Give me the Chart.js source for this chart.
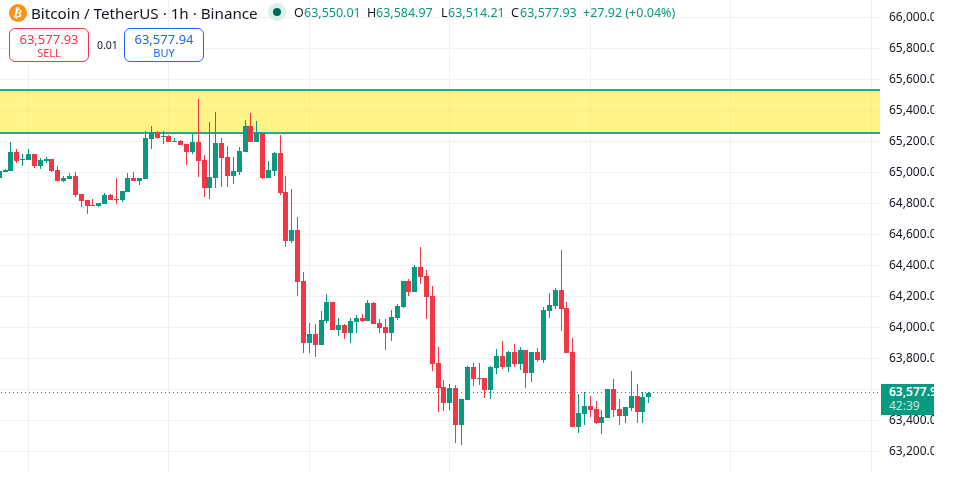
<!DOCTYPE html>
<html>
<head>
<meta charset="utf-8">
<script src="https://cdn.jsdelivr.net/npm/chart.js@4"></script>
<style>
html,body{margin:0;padding:0;background:#fff;width:966px;height:490px;overflow:hidden}
body{font-family:"Noto Sans",sans-serif;color:#131722;position:relative}
#c{position:absolute;left:0;top:0}
.t{position:absolute;white-space:nowrap;line-height:16px}
.g{color:#089981}
.btn{position:absolute;top:28px;width:78px;height:32px;border:1px solid;border-radius:6px;background:#fff;text-align:center}
.btn div{position:absolute;left:0;right:0;white-space:nowrap}
.btn .p{top:2px;font-size:13px;line-height:16px}
.btn .s{top:17px;font-size:11px;line-height:14px}
#tag{position:absolute;left:881px;top:384px;width:53px;height:31px;background:#089981;overflow:hidden;color:#fff;font-size:12px}
#tag div{position:absolute;left:8px;white-space:nowrap;line-height:15px}
</style>
</head>
<body>
<canvas id="c" width="934" height="472" style="width:934px;height:472px"></canvas>

<div style="position:absolute;left:9px;top:4px;width:18px;height:18px;border-radius:50%;background:#f7931a;color:#fff;text-align:center;font:bold 12px/18px 'DejaVu Sans'"><span style="display:inline-block;transform:rotate(14deg)">₿</span></div>
<div class="t" id="title" style="left:31px;top:2px;font-size:15.2px;line-height:22px">Bitcoin / TetherUS · 1h · Binance</div>
<div style="position:absolute;left:268px;top:3px;width:18px;height:18px;border-radius:50%;background:#dbefeb"></div>
<div style="position:absolute;left:273px;top:8px;width:8px;height:8px;border-radius:50%;background:#056656"></div>
<div class="t" style="left:294px;top:5px;font-size:12.5px">O</div><div class="t g" style="left:304px;top:5px;font-size:12.5px">63,550.01</div>
<div class="t" style="left:367px;top:5px;font-size:12.5px">H</div><div class="t g" style="left:376px;top:5px;font-size:12.5px">63,584.97</div>
<div class="t" style="left:441px;top:5px;font-size:12.5px">L</div><div class="t g" style="left:448px;top:5px;font-size:12.5px">63,514.21</div>
<div class="t" style="left:511px;top:5px;font-size:12.5px">C</div><div class="t g" style="left:520px;top:5px;font-size:12.5px">63,577.93</div>
<div class="t g" style="left:583px;top:5px;font-size:12.5px">+27.92 (+0.04%)</div>

<div class="btn" style="left:9px;border-color:#f23645;color:#f23645"><div class="p">63,577.93</div><div class="s">SELL</div></div>
<div class="t" style="left:97px;top:37px;font-size:10.5px">0.01</div>
<div class="btn" style="left:124px;border-color:#2962ff;color:#2962ff"><div class="p">63,577.94</div><div class="s">BUY</div></div>

<div id="tag"><div style="top:0px;font-weight:600">63,577.93</div><div style="top:14px;opacity:.75">42:39</div></div>

<script>
const opens=[64963,65002,65008,65131,65079,65079,65118,65041,65073,65086,65015,64944,64957,64976,64860,64821,64789,64783,64795,64853,64828,64821,64873,64963,64944,64957,65215,65260,65228,65234,65195,65202,65183,65131,65195,65079,64899,64963,65189,65099,64976,65002,65131,65299,65195,65254,64963,65008,65124,64873,64557,64628,64299,63899,63957,63886,64041,64163,63983,64015,63963,64034,64060,64041,64157,64028,64002,63963,64060,64131,64299,64228,64389,64331,64202,63770,63615,63512,63608,63370,63531,63744,63673,63673,63596,63737,63815,63744,63841,63763,63854,63705,63841,63789,64105,64137,64241,64124,63841,63357,63441,63492,63473,63383,63415,63602,63473,63428,63479,63557,63454,63550.01];
const highs=[65012,65021,65195,65150,65118,65150,65118,65092,65099,65086,65041,64976,64996,65002,64860,64821,64828,64802,64866,64860,64963,64879,64996,65002,64963,65266,65299,65266,65266,65241,65221,65208,65183,65247,65473,65112,65324,65389,65221,65170,65099,65163,65337,65383,65331,65254,65073,65131,65241,64976,64892,64712,64357,64028,64021,64105,64215,64163,64060,64021,64060,64079,64086,64176,64163,64054,64054,64112,64150,64299,64312,64402,64518,64370,64266,63873,63660,63634,63628,63537,63750,63770,63770,63673,63750,63860,63912,63847,63892,63873,63854,63841,63866,64131,64221,64253,64499,64163,63931,63570,63583,63557,63524,63466,63602,63666,63537,63486,63718,63634,63583,63584.97];
const lows=[64963,65002,65008,65060,65041,65079,65028,65021,65060,65002,64944,64937,64957,64841,64776,64731,64783,64776,64795,64821,64795,64808,64873,64944,64918,64957,65150,65215,65183,65195,65195,65176,65047,65118,64970,64841,64828,64899,64905,64905,64925,64983,65131,65195,65195,64957,64963,64976,64853,64518,64544,64202,63834,63834,63808,63886,64028,63983,63944,63924,63899,63963,64034,64041,64021,63963,63854,63912,64047,64124,64202,64228,64279,64054,63718,63454,63460,63466,63253,63240,63531,63621,63628,63544,63537,63699,63731,63711,63744,63725,63608,63647,63776,63770,64060,64118,63976,63834,63357,63318,63370,63421,63376,63312,63415,63421,63370,63383,63460,63383,63383,63514.21];
const closes=[65008,65015,65131,65073,65086,65118,65041,65079,65086,65008,64944,64963,64976,64853,64815,64783,64783,64802,64853,64821,64821,64879,64963,64944,64963,65221,65260,65221,65234,65195,65202,65176,65131,65195,65073,64899,64970,65189,65092,64976,65008,65137,65299,65195,65254,64963,65015,65124,64866,64557,64628,64292,63899,63957,63886,64047,64163,63983,64015,63963,64041,64060,64041,64157,64021,63995,63963,64066,64137,64299,64228,64389,64324,64196,63763,63608,63512,63608,63370,63537,63744,63666,63666,63596,63744,63815,63744,63841,63763,63854,63705,63841,63789,64112,64144,64241,64118,63834,63357,63447,63492,63466,63383,63421,63602,63466,63428,63486,63557,63454,63550,63577.93];
const priceTicks=[66000,65800,65600,65400,65200,65000,64800,64600,64400,64200,64000,63800,63600,63400,63200];
const dayGridCandles=[5,29,53,77,101,125,149];
const bandHigh=65531, bandLow=65254;
const lastPrice=63577.93;

const GREEN='#089981', RED='#f23645', GRID='#f0f1f4';
const index=opens.map((_,i)=>i);
const colors=index.map(i=>closes[i]>=opens[i]?GREEN:RED);

const snapPlugin={id:'snap',beforeDatasetsDraw(chart){
  chart.getSortedVisibleDatasetMetas().forEach(m=>m.data.forEach(el=>{
    el.x=Math.floor(el.x)+0.5; el.y=Math.round(el.y); el.base=Math.round(el.base);
  }));
  const {ctx,chartArea:a,scales:{y}}=chart;
  const top=Math.round(y.getPixelForValue(bandHigh)), bot=Math.round(y.getPixelForValue(bandLow));
  ctx.save();
  ctx.fillStyle='rgba(255,235,59,0.6)';
  ctx.fillRect(a.left,top,a.right-a.left,bot-top);
  ctx.strokeStyle='#22ab94'; ctx.lineWidth=2;
  ctx.beginPath();
  ctx.moveTo(a.left,top);ctx.lineTo(a.right,top);
  ctx.moveTo(a.left,bot);ctx.lineTo(a.right,bot);
  ctx.stroke();
  ctx.restore();
},afterDatasetsDraw(chart){
  const {ctx,chartArea:a,scales:{y}}=chart;
  const py=Math.floor(y.getPixelForValue(lastPrice))+0.5;
  ctx.save();
  ctx.strokeStyle=GREEN; ctx.lineWidth=1; ctx.setLineDash([1,3]);
  ctx.beginPath();ctx.moveTo(a.left+1,py);ctx.lineTo(a.right,py);ctx.stroke();
  ctx.restore();
}};

new Chart(document.getElementById('c'),{
  type:'bar',
  data:{datasets:[
    {label:'body',data:index.map(i=>({x:i,y:[opens[i],closes[i]]})),backgroundColor:colors,barThickness:5,borderWidth:0,inflateAmount:0,grouped:false,order:1},
    {label:'wick',data:index.map(i=>({x:i,y:[lows[i],highs[i]]})),backgroundColor:colors,barThickness:1,borderWidth:0,inflateAmount:0,grouped:false,order:2}
  ]},
  plugins:[snapPlugin],
  options:{
    responsive:false,animation:false,devicePixelRatio:1,
    layout:{padding:0,autoPadding:false},
    plugins:{legend:{display:false},tooltip:{enabled:false}},
    scales:{
      x:{type:'linear',offset:false,min:0.13,max:150.51,
        afterBuildTicks:s=>{s.ticks=dayGridCandles.map(v=>({value:v}));},
        afterFit:s=>{s.height=0;s.paddingLeft=0;s.paddingRight=0;},
        grid:{color:GRID,drawTicks:false,offset:false},border:{display:false},
        ticks:{display:false}},
      y:{type:'linear',position:'right',offset:false,min:63066.5,max:66111.6,
        afterBuildTicks:s=>{s.ticks=priceTicks.map(v=>({value:v}));},
        afterFit:s=>{s.width=54;s.paddingTop=0;s.paddingBottom=0;},
        grid:{color:GRID,drawTicks:false,offset:false},border:{display:false},
        ticks:{padding:9,color:'#131722',font:{family:'"Noto Sans"',size:12},autoSkip:false,
          callback:v=>v.toLocaleString('en-US',{minimumFractionDigits:2,maximumFractionDigits:2})}}
    }
  }
});
</script>
</body>
</html>
